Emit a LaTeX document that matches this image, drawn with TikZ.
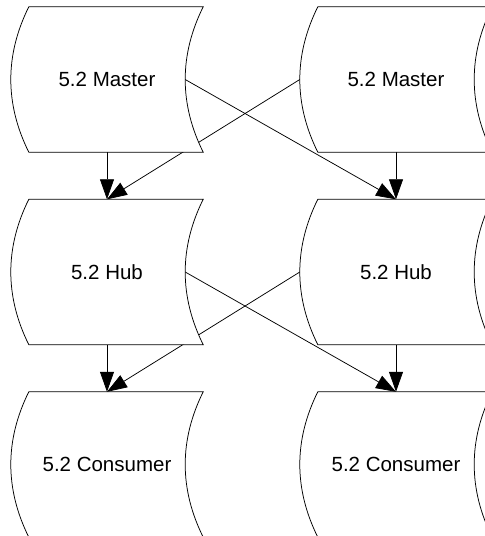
\documentclass[tikz,border=0pt]{standalone}
\usepackage{fontspec}
\setmainfont{Liberation Sans}
\usetikzlibrary{arrows.meta,calc}
\pgfdeclarelayer{links}
\pgfdeclarelayer{outlines}
\pgfsetlayers{links,outlines,main}

\tikzset{
  store/.style={rectangle, minimum width=192pt, minimum height=145pt,
    inner sep=0pt, font=\fontsize{20.5}{24}\selectfont},
  outline/.style={draw=black, fill=white, line width=0.75pt},
  link/.style={draw=black, line width=0.75pt,
    -{Triangle[length=20pt,width=14pt]}},
}

% stored-data outline around a node: both sides bow to the left
\newcommand{\storedoutline}[1]{%
  \path[outline]
    ($(#1.north west)+(18,0)$) -- (#1.north east)
    .. controls ($(#1.north east)+(-24,48.3)$) and ($(#1.south east)+(-24,-48.3)$) .. (#1.south east)
    -- ($(#1.south west)+(18,0)$)
    .. controls ($(#1.south west)+(-6,-48.3)$) and ($(#1.north west)+(-6,48.3)$) .. cycle;}

\begin{document}
\begin{tikzpicture}[x=1pt,y=-1pt]
  \useasboundingbox (0,0) rectangle (485,536);

  \node[store] (m1) at (107,79.5)  {5.2 Master};
  \node[store] (m2) at (396,79.5)  {5.2 Master};
  \node[store] (h1) at (107,272)   {5.2 Hub};
  \node[store] (h2) at (396,272)   {5.2 Hub};
  \node[store] (c1) at (107,464.5) {5.2 Consumer};
  \node[store] (c2) at (396,464.5) {5.2 Consumer};

  \begin{pgfonlayer}{outlines}
    \foreach \n in {m1,m2,h1,h2,c1,c2} {\storedoutline{\n}}
  \end{pgfonlayer}

  \begin{pgfonlayer}{links}
    \fill[white] (0,0) rectangle (485,536);
    \draw[link] (m1.south) -- (h1.north);
    \draw[link] (m2.south) -- (h2.north);
    \draw[link] ($(m1.east)+(-18,0)$) -- (h2.north);
    \draw[link] (m2.west) -- (h1.north);
    \draw[link] (h1.south) -- (c1.north);
    \draw[link] (h2.south) -- (c2.north);
    \draw[link] ($(h1.east)+(-18,0)$) -- (c2.north);
    \draw[link] (h2.west) -- (c1.north);
  \end{pgfonlayer}
\end{tikzpicture}
\end{document}
